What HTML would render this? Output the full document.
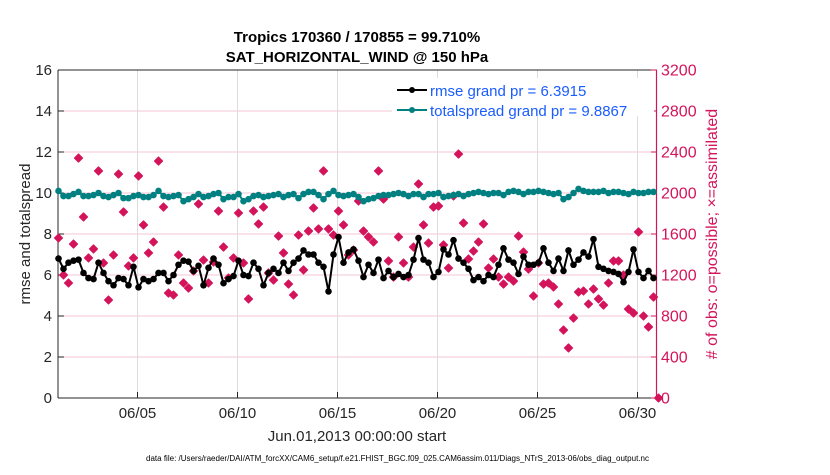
<!DOCTYPE html>
<html><head><meta charset="utf-8"><style>
body{margin:0;background:#fff;}
svg text{font-family:"Liberation Sans",Arial,sans-serif;}
</style></head><body>
<svg id="chart" width="830" height="470" xmlns="http://www.w3.org/2000/svg">
<text x="357" y="42" font-size="15" font-weight="bold" text-anchor="middle">Tropics 170360 / 170855 = 99.710%</text>
<text x="357" y="62" font-size="15" font-weight="bold" text-anchor="middle">SAT_HORIZONTAL_WIND @ 150 hPa</text>
<g id="grid"></g>
<g id="axes"></g>
<g id="marks"></g>
<text transform="translate(30,234) rotate(-90)" font-size="15" text-anchor="middle" fill="#262626">rmse and totalspread</text>
<text transform="translate(717,234) rotate(-90)" font-size="16" text-anchor="middle" fill="#d4145a"># of obs: o=possible; ×=assimilated</text>
<text x="357" y="441" font-size="15" text-anchor="middle" fill="#262626">Jun.01,2013 00:00:00 start</text>
<text x="146" y="461" font-size="8" textLength="503" lengthAdjust="spacingAndGlyphs" fill="#000">data file: /Users/raeder/DAI/ATM_forcXX/CAM6_setup/f.e21.FHIST_BGC.f09_025.CAM6assim.011/Diags_NTrS_2013-06/obs_diag_output.nc</text>
<g id="legend">
<rect x="392" y="78" width="262" height="38" fill="#fff"/>
<line x1="397" y1="90" x2="427" y2="90" stroke="#000" stroke-width="2"/><circle cx="412" cy="90" r="3" fill="#000"/>
<text x="430" y="96" font-size="15" fill="#1a5cff">rmse grand pr = 6.3915</text>
<line x1="397" y1="110" x2="427" y2="110" stroke="#008080" stroke-width="2"/><circle cx="412" cy="110" r="3" fill="#008080"/>
<text x="430" y="116" font-size="15" fill="#1a5cff">totalspread grand pr = 9.8867</text>
</g>
</svg>
<script>
const xTickLabels=["06/05","06/10","06/15","06/20","06/25","06/30"];
const xTickDays=[4,9,14,19,24,29];
const yLeftTicks=[0,2,4,6,8,10,12,14,16];
const yRightTicks=[0,400,800,1200,1600,2000,2400,2800,3200];
const rmse=[6.8,6.3,6.6,6.7,6.75,6.1,5.85,5.8,6.6,6.1,5.7,5.5,5.85,5.8,5.5,6.4,5.4,5.8,5.7,5.8,6.1,6.1,5.7,6.0,6.5,6.7,6.65,6.2,6.45,5.5,6.35,6.8,6.5,5.6,5.8,5.95,6.7,6.0,5.95,6.6,6.3,5.5,6.1,6.3,6.1,6.6,6.2,6.6,6.8,7.2,7.0,7.0,6.6,6.4,5.2,7.0,7.85,6.6,7.1,7.25,6.7,5.9,6.5,6.1,6.75,5.85,6.2,5.9,6.05,5.9,6.0,6.75,7.8,6.75,6.6,5.9,6.15,7.25,7.0,7.7,6.8,6.6,6.3,5.75,5.9,5.7,6.0,5.9,6.5,7.3,6.75,6.6,6.05,6.9,6.5,6.5,6.6,7.3,6.6,6.2,6.8,6.2,7.2,6.5,6.75,7.1,6.9,7.75,6.4,6.3,6.2,6.15,6.05,5.65,6.15,7.25,6.15,5.85,6.2,5.85];
const spread=[10.1,9.85,9.85,9.95,10.05,9.85,9.85,9.9,10.0,9.85,9.8,9.9,10.0,9.75,9.75,9.85,9.9,9.8,9.8,9.9,10.1,9.85,9.8,9.85,9.9,9.6,9.7,9.8,9.95,9.8,9.85,9.95,10.0,9.7,9.8,9.8,9.95,9.6,9.7,9.85,9.9,9.8,9.85,9.9,9.95,9.8,9.9,9.95,9.75,9.95,10.05,10.05,9.9,9.7,9.95,10.1,9.9,9.85,9.9,9.95,9.8,9.6,9.7,9.75,9.85,9.9,9.9,9.95,10.0,9.95,9.85,9.95,9.95,9.8,9.95,9.95,10.0,9.8,9.85,9.9,9.95,9.85,9.95,10.0,10.05,10.0,9.95,10.0,10.0,9.9,10.05,10.1,10.05,9.95,10.05,10.05,10.1,10.05,10.0,9.95,10.0,9.7,9.8,10.0,10.2,10.1,10.05,10.05,10.05,10.1,10.0,10.05,10.05,10.0,9.95,10.05,10.0,10.0,10.05,10.05];
const nobs=[1561,1200,1122,1502,2341,1766,1366,1454,2215,1317,956,1395,2185,1815,1288,1366,2166,1688,1415,1522,2312,1863,1024,1005,1395,1122,1073,1239,1893,1346,1122,1327,1824,1473,1171,1366,1805,1317,966,1824,1698,1863,1220,1151,1580,1415,1112,1005,1590,1249,1629,1854,1649,2215,1649,1590,1824,1688,1395,1444,1922,1629,1571,1522,2215,1941,1337,1180,1571,1317,1180,1473,2088,1688,1512,1863,1873,1493,1268,1971,2380,1707,1356,1434,1522,1698,1268,1356,1180,1112,1180,1141,1580,1424,1258,995,1317,1112,1122,1083,917,663,488,780,1034,1044,917,1063,966,907,1122,1337,1337,1200,868,829,1620,800,693,985,0];
const X0=57.5,PX_DAY=20,YB=398,YT=70;
const xs=d=>X0+d*PX_DAY;
const yL=v=>YB-(v/16)*(YB-YT);
const yR=v=>YB-(v/3200)*(YB-YT);
const NS="http://www.w3.org/2000/svg";
function mk(tag,attrs,parent){const e=document.createElementNS(NS,tag);for(const k in attrs)e.setAttribute(k,attrs[k]);parent.appendChild(e);return e;}
const grid=document.getElementById('grid'),axes=document.getElementById('axes'),marks=document.getElementById('marks');
yLeftTicks.forEach((v,i)=>{if(v===0)return;const l=mk('line',{x1:58,x2:657,y1:yL(v),y2:yL(v),stroke:'#f3c6d6','stroke-width':1},grid);

});
xTickDays.forEach(d=>{const l=mk('line',{x1:xs(d),x2:xs(d),y1:YT,y2:YB,stroke:'#dcdcdc','stroke-width':1},grid);

});
let a=mk('line',{x1:58,x2:657,y1:YB,y2:YB,stroke:'#262626','stroke-width':1},axes);


a=mk('line',{x1:58,x2:657,y1:YT,y2:YT,stroke:'#262626','stroke-width':1},axes);


a=mk('line',{x1:58,x2:58,y1:YT,y2:YB,stroke:'#262626','stroke-width':1},axes);


a=mk('line',{x1:656.5,x2:656.5,y1:YT,y2:YB,stroke:'#d4145a','stroke-width':1.2},axes);


xTickDays.forEach((d,i)=>{mk('line',{x1:xs(d),x2:xs(d),y1:YB,y2:YB-6,stroke:'#262626'},axes);
const t=mk('text',{x:xs(d),y:418,'font-size':15,'text-anchor':'middle',fill:'#262626'},axes);t.textContent=xTickLabels[i];

});
yLeftTicks.forEach(v=>{mk('line',{x1:58,x2:64,y1:yL(v),y2:yL(v),stroke:'#262626'},axes);
const t=mk('text',{x:52,y:yL(v)+5,'font-size':15,'text-anchor':'end',fill:'#262626'},axes);t.textContent=v;

});
yRightTicks.forEach(v=>{mk('line',{x1:651,x2:657,y1:yR(v),y2:yR(v),stroke:'#d4145a'},axes);
const t=mk('text',{x:661,y:yR(v)+5.5,'font-size':16,'text-anchor':'start',fill:'#d4145a'},axes);t.textContent=v;

});
nobs.forEach((v,i)=>{const cx=xs(i*0.25+0.05),cy=yR(v);
const p=mk('path',{d:`M${cx-4},${cy}L${cx},${cy-4}L${cx+4},${cy}L${cx},${cy+4}Z`,fill:'#d4145a',stroke:'#d4145a','stroke-width':1.2,'stroke-linejoin':'round'},marks);

});
function series(vals,color,name){const pts=vals.map((v,i)=>xs(i*0.25+0.05)+','+yL(v)).join(' ');
const pl=mk('polyline',{points:pts,fill:'none',stroke:color,'stroke-width':2},marks);


vals.forEach((v,i)=>{const c=mk('circle',{cx:xs(i*0.25+0.05),cy:yL(v),r:3.3,fill:color},marks);

});}
series(spread,'#008080','totalspread');
series(rmse,'#000000','rmse');
document.getElementById('chart').appendChild(document.getElementById('legend'));
</script>
</body></html>
